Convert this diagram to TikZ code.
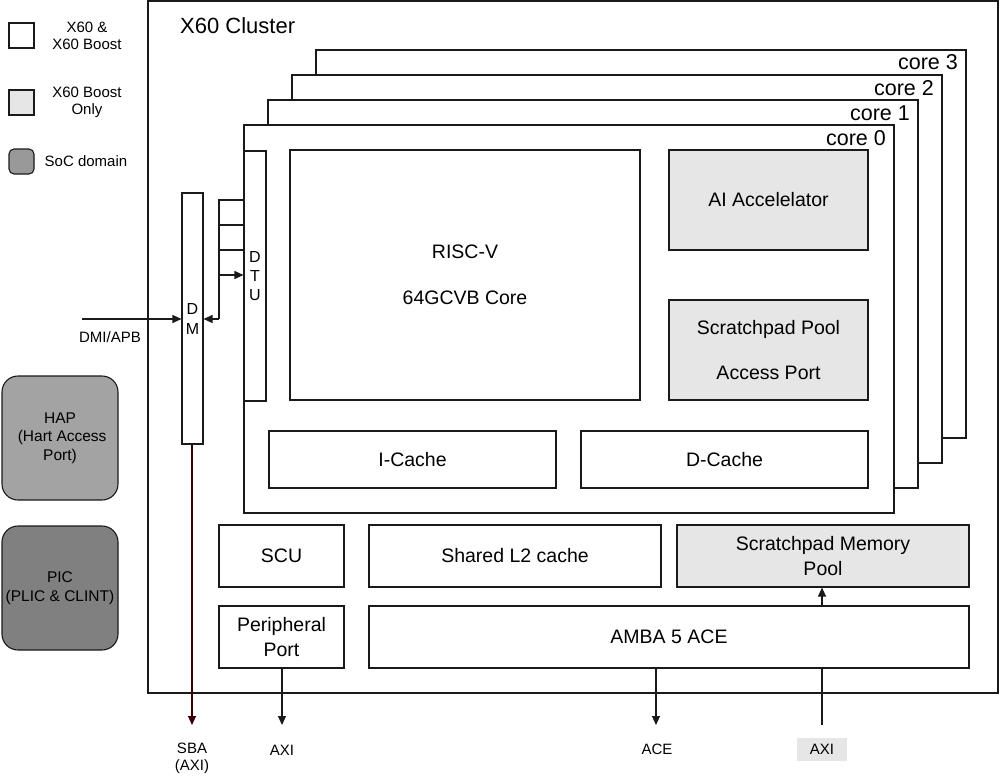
\documentclass[tikz,border=0pt]{standalone}
\usepackage{fontspec}
\setmainfont{Liberation Sans}
\usetikzlibrary{arrows.meta}
\definecolor{lgray}{HTML}{E6E6E6}
\definecolor{hapgray}{HTML}{A3A3A3}
\definecolor{picgray}{HTML}{808080}
\definecolor{socgray}{HTML}{999999}
\definecolor{edge}{HTML}{1A1A1A}
\definecolor{sbared}{HTML}{3A0000}
\tikzset{
  box/.style={draw=edge, line width=1.1pt, fill=white, inner sep=0pt, align=center,
    font=\fontsize{19.5}{25}\selectfont},
  gbox/.style={box, fill=lgray},
  soc/.style={draw=edge, line width=1.1pt, rounded corners=16pt, inner sep=0pt, align=center,
    font=\fontsize{15.5}{18.5}\selectfont},
  lbl/.style={inner sep=0pt, align=center, font=\fontsize{15}{17}\selectfont},
  corelbl/.style={inner sep=0pt, anchor=base east, font=\fontsize{21.5}{24}\selectfont},
  conn/.style={line width=1.1pt, draw=edge},
  arr/.style={conn, -{Triangle[length=9pt,width=8pt]}},
}
\begin{document}
\begin{tikzpicture}[x=1pt,y=-1pt]
\useasboundingbox (0,0) rectangle (1000,776);
% cluster
\node[box, minimum width=850pt, minimum height=692pt] (cluster) at (573,347) {};
\node[inner sep=0pt, anchor=base west, font=\fontsize{22}{24}\selectfont] (clt) at (180,34) {X60 Cluster};
% cores
\node[box, minimum width=650pt, minimum height=388pt] (core3) at (641,244) {};
\node[corelbl] (c3l) at (958,70) {core 3};
\node[box, minimum width=650pt, minimum height=388pt] (core2) at (617,269) {};
\node[corelbl] (c2l) at (934,95) {core 2};
\node[box, minimum width=650pt, minimum height=388pt] (core1) at (593,294) {};
\node[corelbl] (c1l) at (910,120) {core 1};
\node[box, minimum width=650pt, minimum height=388pt] (core0) at (569,319) {};
\node[corelbl] (c0l) at (886,145) {core 0};
% core 0 contents
\node[box, minimum width=22pt, minimum height=250pt, font=\fontsize{16}{19}\selectfont] (dtu) at (255,276) {D\\T\\U};
\node[box, minimum width=350pt, minimum height=250pt] (risc) at (465,275) {RISC-V\\[21pt]64GCVB Core};
\node[gbox, minimum width=199pt, minimum height=100pt] (ai) at (768.5,200) {AI Accelelator};
\node[gbox, minimum width=199pt, minimum height=100pt] (spap) at (768.5,350) {Scratchpad Pool\\[20pt]Access Port};
\node[box, minimum width=287pt, minimum height=57pt] (icache) at (412.5,459.5) {I-Cache};
\node[box, minimum width=287pt, minimum height=57pt] (dcache) at (724.5,459.5) {D-Cache};
% shared
\node[box, minimum width=125pt, minimum height=62pt] (scu) at (281.5,556) {SCU};
\node[box, minimum width=292pt, minimum height=62pt] (l2) at (515,556) {Shared L2 cache};
\node[gbox, minimum width=292pt, minimum height=62pt] (smp) at (823,556) {Scratchpad Memory\\Pool};
\node[box, minimum width=125pt, minimum height=62pt] (pp) at (281.5,637) {Peripheral\\Port};
\node[box, minimum width=600pt, minimum height=62pt] (amba) at (669,637) {AMBA 5 ACE};
% DM
\node[box, minimum width=21pt, minimum height=251pt, font=\fontsize{16}{20}\selectfont] (dm) at (192.5,318.5) {D\\M};
% SoC blocks
\node[soc, fill=hapgray, minimum width=116pt, minimum height=124pt] (hap) at (60,438) {HAP\\\ (Hart Access\\Port)};
\node[soc, fill=picgray, minimum width=116pt, minimum height=124pt] (pic) at (60,588) {PIC\\(PLIC \& CLINT)};
% legend
\node[box, minimum width=25pt, minimum height=25pt] (lw) at (21.5,35.5) {};
\node[lbl] (lwt) at (87,36) {X60 \&\\X60 Boost};
\node[gbox, minimum width=25pt, minimum height=25pt] (lg) at (21.5,102.5) {};
\node[lbl] (lgt) at (87,102) {X60 Boost\\Only};
\node[soc, fill=socgray, rounded corners=5pt, minimum width=25pt, minimum height=25pt] (ls) at (21.5,161.5) {};
\node[lbl] (lst) at (86,161) {SoC domain};
% DMI/APB
\coordinate (dmiin) at (82,319);
\draw[arr] (dmiin) -- (dm.west |- dmiin);
\node[lbl] (dmil) at (110,337) {DMI/APB};
% DTU stubs
\coordinate (j1) at (219,200);
\coordinate (j2) at (219,225);
\coordinate (j3) at (219,250);
\coordinate (j4) at (219,275);
\coordinate (j5) at (219,319);
\draw[conn] (j1 -| dtu.west) -- (j1) -- (j5);
\draw[conn] (j2) -- (j2 -| dtu.west);
\draw[conn] (j3) -- (j3 -| dtu.west);
\draw[arr] (j4) -- (j4 -| dtu.west);
\draw[arr] (j5) -- (j5 -| dm.east);
% bottom connectors
\coordinate (sbaend) at (192,725);
\draw[arr, draw=sbared, color=sbared] (dm.south -| sbaend) -- (sbaend);
\node[lbl] (sbal) at (192,758.5) {SBA\\(AXI)};
\coordinate (ppend) at (282,725);
\draw[arr] (pp.south -| ppend) -- (ppend);
\node[lbl] (ppl) at (282,750) {AXI};
\coordinate (aceend) at (656,725);
\draw[arr] (amba.south -| aceend) -- (aceend);
\node[lbl] (acel) at (657,749.5) {ACE};
\node[lbl, fill=lgray, minimum width=50pt, minimum height=23pt] (axil) at (822,749.5) {AXI};
\coordinate (axiin) at (822,725);
\draw[conn] (axiin) -- (amba.south -| axiin);
\draw[arr] (amba.north -| axiin) -- (smp.south -| axiin);
\end{tikzpicture}
\end{document}
